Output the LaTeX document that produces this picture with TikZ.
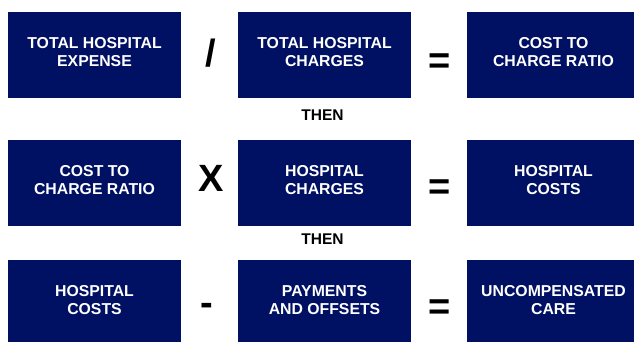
\documentclass[tikz,border=0pt]{standalone}
\usepackage{fontspec}
\setmainfont{Liberation Sans}
\definecolor{navy}{RGB}{0,16,98}
\begin{document}
\begin{tikzpicture}[
x=1pt, y=-1pt,
costbox/.style={
fill=navy,
minimum width=173pt,
minimum height=86pt,
inner sep=0pt,
align=center,
text=white,
font=\fontsize{15.8}{18.5}\selectfont\bfseries,
execute at end node=\rule[-6pt]{0pt}{0pt}
},
opsign/.style={
anchor=base,
inner sep=0pt,
font=\fontsize{38}{38}\selectfont\bfseries
},
thenlabel/.style={
inner sep=0pt,
font=\fontsize{15.5}{18.5}\selectfont\bfseries
}
]
\useasboundingbox (0,0) rectangle (634,341);
\clip (0,0) rectangle (634,341);
% cost to charge ratio
\node[costbox] (expense) at (94.5,55) {TOTAL HOSPITAL\\EXPENSE};
\node[costbox] (charges) at (324.5,55) {TOTAL HOSPITAL\\CHARGES};
\node[costbox] (ratio) at (553.5,55) {COST TO\\CHARGE RATIO};
\node[opsign] (divide) at (211,66.5) {/};
\node[opsign] (equals1) at (440,73) {=};
\node[thenlabel] (then1) at (322.5,115) {THEN};
% hospital costs
\node[costbox] (ratio2) at (94.5,183) {COST TO\\CHARGE RATIO};
\node[costbox] (hcharges) at (324.5,183) {HOSPITAL\\CHARGES};
\node[costbox] (hcosts) at (553.5,183) {HOSPITAL\\COSTS};
\node[opsign] (times) at (211.5,191) {X};
\node[opsign] (equals2) at (440,199) {=};
\node[thenlabel] (then2) at (322.5,239) {THEN};
% uncompensated care
\node[costbox] (hcosts2) at (94.5,303) {HOSPITAL\\COSTS};
\node[costbox] (payments) at (324.5,303) {PAYMENTS\\AND OFFSETS};
\node[costbox] (uncomp) at (553.5,303) {UNCOMPENSATED\\CARE};
\node[opsign] (minus) at (206.5,315) {-};
\node[opsign] (equals3) at (440,319) {=};
\end{tikzpicture}
\end{document}
